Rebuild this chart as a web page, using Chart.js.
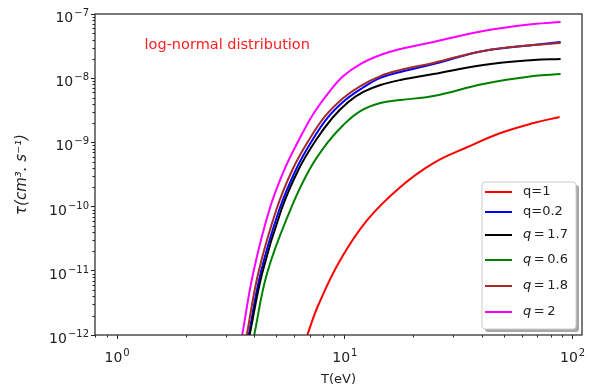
<!DOCTYPE html>
<html>
<head>
<meta charset="utf-8">
<script src="https://cdn.jsdelivr.net/npm/chart.js@4/dist/chart.umd.min.js"></script>
<style>
  body { margin: 0; background: #fff; }
  canvas { display: block; }
</style>
</head>
<body>
<canvas id="tauChart" width="590" height="390"></canvas>
<script>
// values (T in eV, tau in cm^3.s^-1)
const tRed = [6.84, 7.65, 9.55, 12.56, 17.54, 24.49, 34.6, 48.3, 67.4, 87.7];
const tauRed = [1e-12, 2.93e-12, 1.47e-11, 6.2e-11, 2.02e-10, 4.76e-10, 8.47e-10, 1.4e-9, 2.0e-9, 2.49e-9];

const tBlue = [3.785, 4.27, 5.15, 6.09, 7.16, 8.46, 10.05, 11.94, 14.32, 17.54, 24.49, 40.6, 67.4, 88.6];
const tauBlue = [1e-12, 9.25e-12, 8.85e-11, 3.72e-10, 1.05e-9, 2.49e-9, 4.57e-9, 7.03e-9, 1.01e-8, 1.25e-8, 1.66e-8, 2.66e-8, 3.29e-8, 3.66e-8];

const tBlack = [3.82, 4.34, 5.26, 6.25, 7.42, 8.81, 10.36, 12.06, 14.32, 17.54, 24.49, 40.6, 67.4, 88.6];
const tauBlack = [1e-12, 9.25e-12, 8.85e-11, 3.72e-10, 1.05e-9, 2.4e-9, 4.26e-9, 6.1e-9, 7.83e-9, 9.38e-9, 1.16e-8, 1.61e-8, 1.92e-8, 1.99e-8];

const tGreen = [4.0, 4.56, 5.76, 6.98, 8.38, 9.85, 11.7, 14.32, 17.54, 24.49, 40.6, 67.4, 88.6];
const tauGreen = [1e-12, 9.25e-12, 8.85e-11, 3.72e-10, 9.8e-10, 1.87e-9, 3.08e-9, 4.11e-9, 4.57e-9, 5.28e-9, 8.13e-9, 1.08e-8, 1.16e-8];

const tBrown = [3.71, 4.17, 5.0, 5.88, 6.91, 8.21, 9.85, 11.7, 14.32, 17.54, 24.49, 40.6, 67.4, 88.6];
const tauBrown = [1e-12, 9.25e-12, 8.85e-11, 3.72e-10, 1.05e-9, 2.58e-9, 4.92e-9, 7.55e-9, 1.08e-8, 1.34e-8, 1.73e-8, 2.66e-8, 3.29e-8, 3.53e-8];

const tMagenta = [3.544, 3.96, 4.66, 5.42, 6.25, 7.27, 8.46, 9.85, 11.7, 14.32, 17.54, 24.49, 40.6, 67.4, 88.6];
const tauMagenta = [1e-12, 9.25e-12, 8.85e-11, 3.72e-10, 1.05e-9, 2.77e-9, 5.88e-9, 1.08e-8, 1.66e-8, 2.3e-8, 2.85e-8, 3.66e-8, 5.43e-8, 6.98e-8, 7.5e-8];

const seriesLabels = ['q=1', 'q=0.2', 'q = 1.7', 'q = 0.6', 'q = 1.8', 'q = 2'];
const xTicks = [1, 10, 100];
const yTicks = [1e-12, 1e-11, 1e-10, 1e-9, 1e-8, 1e-7];
const noteText = 'log-normal distribution';
const notePos = { x: 1.32, y: 3.3e-8 };

const FONT = "'DejaVu Sans', sans-serif";
const INK = '#222';

const pts = (xs, ys) => xs.map((x, i) => ({ x: x, y: ys[i] }));
const expOf = v => String(Math.round(Math.log10(v))).replace('-', '\u2212');

const series = [
    { data: pts(tRed, tauRed), color: '#ff0000' },
    { data: pts(tBlue, tauBlue), color: '#0000ff' },
    { data: pts(tBlack, tauBlack), color: '#000000' },
    { data: pts(tGreen, tauGreen), color: '#008000' },
    { data: pts(tBrown, tauBrown), color: '#a52a2a' },
    { data: pts(tMagenta, tauMagenta), color: '#ff00ff' }
];

// "10" with a raised exponent; x is left edge, y is baseline
function powWidth(ctx, e) {
    ctx.font = '14px ' + FONT;
    const w1 = ctx.measureText('10').width;
    ctx.font = '10px ' + FONT;
    return w1 + 1 + ctx.measureText(e).width;
}
function drawPow(ctx, e, x, y) {
    ctx.textAlign = 'left';
    ctx.textBaseline = 'alphabetic';
    ctx.font = '14px ' + FONT;
    ctx.fillText('10', x, y);
    const w1 = ctx.measureText('10').width;
    ctx.font = '10px ' + FONT;
    ctx.fillText(e, x + w1 + 1, y - 6);
}

// frame, minor ticks, tick labels, legend and the red note
const extras = {
    id: 'extras',
    afterDraw(chart) {
        const ctx = chart.ctx;
        const a = chart.chartArea;
        const xs = chart.scales.x, ys = chart.scales.y;
        ctx.save();

        // minor ticks
        ctx.strokeStyle = INK;
        ctx.lineWidth = 1;
        ctx.beginPath();
        for (let e = -1; e <= 2; e++) {
            for (let k = 2; k <= 9; k++) {
                const v = k * Math.pow(10, e);
                if (v < xs.min || v > xs.max) continue;
                const px = Math.round(xs.getPixelForValue(v)) + 0.5;
                ctx.moveTo(px, a.bottom);
                ctx.lineTo(px, a.bottom + 2.5);
            }
        }
        for (let e = -12; e <= -8; e++) {
            for (let k = 2; k <= 9; k++) {
                const v = k * Math.pow(10, e);
                if (v < ys.min || v > ys.max) continue;
                const py = Math.round(ys.getPixelForValue(v)) + 0.5;
                ctx.moveTo(a.left, py);
                ctx.lineTo(a.left - 2.5, py);
            }
        }
        ctx.stroke();

        // frame
        ctx.lineWidth = 1.3;
        ctx.strokeStyle = '#333';
        ctx.strokeRect(a.left, a.top, a.right - a.left, a.bottom - a.top);

        // tick labels
        ctx.fillStyle = INK;
        xTicks.forEach(v => {
            const e = expOf(v);
            const w = powWidth(ctx, e);
            drawPow(ctx, e, xs.getPixelForValue(v) - w / 2, a.bottom + 27);
        });
        yTicks.forEach(v => {
            const e = expOf(v);
            const w = powWidth(ctx, e);
            drawPow(ctx, e, a.left - 6 - w, ys.getPixelForValue(v) + 8);
        });

        // note
        ctx.fillStyle = '#ff2020';
        ctx.font = '14.5px ' + FONT;
        ctx.textBaseline = 'middle';
        ctx.textAlign = 'left';
        ctx.fillText(noteText, xs.getPixelForValue(notePos.x), ys.getPixelForValue(notePos.y));

        // legend
        const bx = 482, by = 182, bw = 94, bh = 147;
        const round = (x, y, w, h, r) => {
            ctx.beginPath();
            ctx.moveTo(x + r, y);
            ctx.arcTo(x + w, y, x + w, y + h, r);
            ctx.arcTo(x + w, y + h, x, y + h, r);
            ctx.arcTo(x, y + h, x, y, r);
            ctx.arcTo(x, y, x + w, y, r);
            ctx.closePath();
        };
        round(bx + 3, by + 3, bw, bh, 3);
        ctx.fillStyle = 'rgba(0,0,0,0.35)';
        ctx.fill();
        round(bx, by, bw, bh, 3);
        ctx.fillStyle = '#fff';
        ctx.fill();
        ctx.strokeStyle = '#cccccc';
        ctx.lineWidth = 1;
        ctx.stroke();

        const rows = [192, 212, 235, 260, 286, 312];
        chart.data.datasets.forEach((ds, i) => {
            const y = rows[i];
            ctx.strokeStyle = ds.borderColor;
            ctx.lineWidth = 2;
            ctx.beginPath();
            ctx.moveTo(485, y);
            ctx.lineTo(512, y);
            ctx.stroke();
            ctx.fillStyle = INK;
            ctx.textAlign = 'left';
            ctx.textBaseline = 'middle';
            const lab = ds.label;
            if (lab.indexOf(' = ') >= 0) {
                ctx.font = 'italic 13px ' + FONT;
                ctx.fillText('q', 523, y);
                const w = ctx.measureText('q').width;
                ctx.font = '13px ' + FONT;
                ctx.fillText(lab.slice(1).replace(/ /g, '\u2009'), 523 + w, y);
            } else {
                ctx.font = '13px ' + FONT;
                ctx.fillText(lab, 523, y);
            }
        });
        ctx.restore();
    }
};

const ctx = document.getElementById('tauChart').getContext('2d');
new Chart(ctx, {
    type: 'scatter',
    data: {
        datasets: series.map((s, i) => ({
            label: seriesLabels[i],
            data: s.data,
            borderColor: s.color,
            backgroundColor: s.color,
            showLine: true,
            borderWidth: 2,
            pointRadius: 0,
            tension: 0.4,
            order: series.length - i
        }))
    },
    options: {
        responsive: false,
        animation: false,
        layout: { padding: { top: 14, right: 8, left: 0, bottom: 0 } },
        plugins: { legend: { display: false }, tooltip: { enabled: false } },
        scales: {
            x: {
                type: 'logarithmic',
                position: 'bottom',
                min: 0.8,
                max: 110,
                afterBuildTicks: s => { s.ticks = xTicks.map(v => ({ value: v })); },
                afterFit: s => { s.height = 55; },
                grid: { display: true, drawOnChartArea: false, drawTicks: true, tickLength: 4, color: INK },
                border: { display: false },
                ticks: { display: false, autoSkip: false },
                title: {
                    display: true, text: 'T(eV)', color: INK,
                    font: { family: FONT, size: 13 }, padding: { top: 0, bottom: 3 }
                }
            },
            y: {
                type: 'logarithmic',
                min: 1e-12,
                max: 1e-7,
                afterBuildTicks: s => { s.ticks = yTicks.map(v => ({ value: v })); },
                afterFit: s => { s.width = 95; },
                grid: { display: true, drawOnChartArea: false, drawTicks: true, tickLength: 4, color: INK },
                border: { display: false },
                ticks: { display: false, autoSkip: false },
                title: {
                    display: true, text: 'τ(cm³. s⁻¹)', color: INK,
                    font: { family: FONT, size: 15, style: 'italic' }, padding: { top: 13, bottom: 0 }
                }
            }
        }
    },
    plugins: [extras]
});
</script>
</body>
</html>
